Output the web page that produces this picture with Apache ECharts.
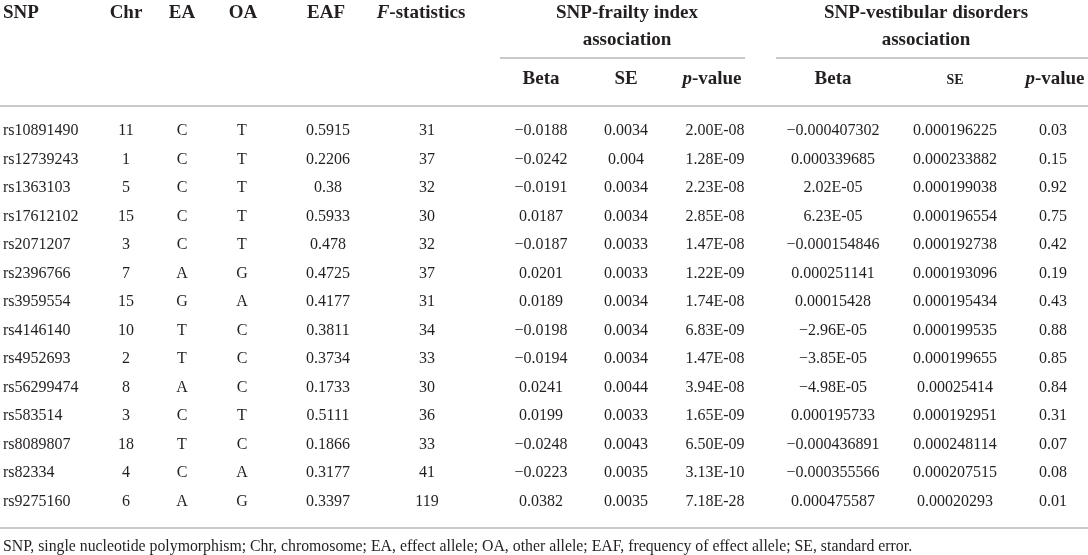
<!DOCTYPE html>
<html>
<head>
<meta charset="utf-8">
<script src="https://cdn.jsdelivr.net/npm/echarts@6/dist/echarts.min.js"></script>
<style>
  html, body { margin: 0; padding: 0; background: #fff; }
  #main { width: 1088px; height: 555px; }
</style>
</head>
<body>
<div id="main"></div>
<script>
const snps = ['rs10891490', 'rs12739243', 'rs1363103', 'rs17612102', 'rs2071207', 'rs2396766', 'rs3959554',
  'rs4146140', 'rs4952693', 'rs56299474', 'rs583514', 'rs8089807', 'rs82334', 'rs9275160'];
const chr = ['11', '1', '5', '15', '3', '7', '15', '10', '2', '8', '3', '18', '4', '6'];
const effectAllele = ['C', 'C', 'C', 'C', 'C', 'A', 'G', 'T', 'T', 'A', 'C', 'T', 'C', 'A'];
const otherAllele = ['T', 'T', 'T', 'T', 'T', 'G', 'A', 'C', 'C', 'C', 'T', 'C', 'A', 'G'];
const eaf = ['0.5915', '0.2206', '0.38', '0.5933', '0.478', '0.4725', '0.4177', '0.3811', '0.3734', '0.1733',
  '0.5111', '0.1866', '0.3177', '0.3397'];
const fStat = ['31', '37', '32', '30', '32', '37', '31', '34', '33', '30', '36', '33', '41', '119'];
const betaFrailty = ['−0.0188', '−0.0242', '−0.0191', '0.0187', '−0.0187', '0.0201', '0.0189', '−0.0198',
  '−0.0194', '0.0241', '0.0199', '−0.0248', '−0.0223', '0.0382'];
const seFrailty = ['0.0034', '0.004', '0.0034', '0.0034', '0.0033', '0.0033', '0.0034', '0.0034', '0.0034',
  '0.0044', '0.0033', '0.0043', '0.0035', '0.0035'];
const pFrailty = ['2.00E-08', '1.28E-09', '2.23E-08', '2.85E-08', '1.47E-08', '1.22E-09', '1.74E-08', '6.83E-09',
  '1.47E-08', '3.94E-08', '1.65E-09', '6.50E-09', '3.13E-10', '7.18E-28'];
const betaVestibular = ['−0.000407302', '0.000339685', '2.02E-05', '6.23E-05', '−0.000154846', '0.000251141',
  '0.00015428', '−2.96E-05', '−3.85E-05', '−4.98E-05', '0.000195733', '−0.000436891', '−0.000355566', '0.000475587'];
const seVestibular = ['0.000196225', '0.000233882', '0.000199038', '0.000196554', '0.000192738', '0.000193096',
  '0.000195434', '0.000199535', '0.000199655', '0.00025414', '0.000192951', '0.000248114', '0.000207515', '0.00020293'];
const pVestibular = ['0.03', '0.15', '0.92', '0.75', '0.42', '0.19', '0.43', '0.88', '0.85', '0.84', '0.31', '0.07',
  '0.08', '0.01'];
const footnote = 'SNP, single nucleotide polymorphism; Chr, chromosome; EA, effect allele; OA, other allele; ' +
  'EAF, frequency of effect allele; SE, standard error.';

const textColor = '#231f20';
const ruleColor = '#c9c9c9';
const serif = '"Liberation Serif", "DejaVu Serif", serif';

// column layout (x in px, equal to axis value because the grid spans the full width)
const columns = [
  { data: snps, x: 3, align: 'left' },
  { data: chr, x: 126 },
  { data: effectAllele, x: 182 },
  { data: otherAllele, x: 242 },
  { data: eaf, x: 328 },
  { data: fStat, x: 427 },
  { data: betaFrailty, x: 541 },
  { data: seFrailty, x: 626 },
  { data: pFrailty, x: 715 },
  { data: betaVestibular, x: 833 },
  { data: seVestibular, x: 955 },
  { data: pVestibular, x: 1053 }
];

const headText = (text, x, y, extra) => ({
  type: 'text',
  x: x,
  y: y,
  style: Object.assign({
    text: text,
    textAlign: 'center',
    textVerticalAlign: 'middle',
    font: 'bold 19px ' + serif,
    fill: textColor,
    rich: {
      i: { fontStyle: 'italic', fontWeight: 'bold', fontSize: 19, fontFamily: serif, fill: textColor }
    }
  }, extra || {})
});

const rule = (x1, x2, y) => ({
  type: 'line',
  shape: { x1: x1, y1: y, x2: x2, y2: y },
  style: { stroke: ruleColor, lineWidth: 2 }
});

const chart = echarts.init(document.getElementById('main'), null, { renderer: 'canvas' });

chart.setOption({
  backgroundColor: '#fff',
  animation: false,
  grid: { left: 0, right: 0, top: 117, bottom: 39 },
  xAxis: { type: 'value', min: 0, max: 1088, show: false },
  yAxis: { type: 'category', data: snps, inverse: true, show: false },
  graphic: [
    rule(500, 745, 58),
    rule(776, 1088, 58),
    rule(0, 1088, 106),
    rule(0, 1088, 528),
    headText('SNP', 3, 13, { textAlign: 'left' }),
    headText('Chr', 126, 13),
    headText('EA', 182, 13),
    headText('OA', 243, 13),
    headText('EAF', 326, 13),
    headText('{i|F}-statistics', 421, 13),
    headText('SNP-frailty index', 627, 13),
    headText('association', 627, 40),
    headText('SNP-vestibular disorders', 926, 13),
    headText('association', 926, 40),
    headText('Beta', 541, 79),
    headText('SE', 626, 79),
    headText('{i|p}-value', 712, 79),
    headText('Beta', 833, 79),
    headText('SE', 955, 80, { font: 'bold 14px ' + serif }),
    headText('{i|p}-value', 1055, 79),
    {
      type: 'text',
      x: 3,
      y: 547,
      style: {
        text: footnote,
        textAlign: 'left',
        textVerticalAlign: 'middle',
        font: '15.8px ' + serif,
        fill: textColor
      }
    }
  ],
  series: [
    {
      type: 'custom',
      data: snps.map((s, i) => [i]),
      encode: { y: 0 },
      renderItem: (params, api) => {
        const row = api.value(0);
        return {
          type: 'group',
          children: columns.map(col => {
            const pt = api.coord([col.x, row]);
            return {
              type: 'text',
              x: pt[0],
              y: pt[1],
              style: {
                text: col.data[row],
                textAlign: col.align || 'center',
                textVerticalAlign: 'middle',
                font: '16px ' + serif,
                fill: textColor
              }
            };
          })
        };
      }
    }
  ]
});
</script>
</body>
</html>
